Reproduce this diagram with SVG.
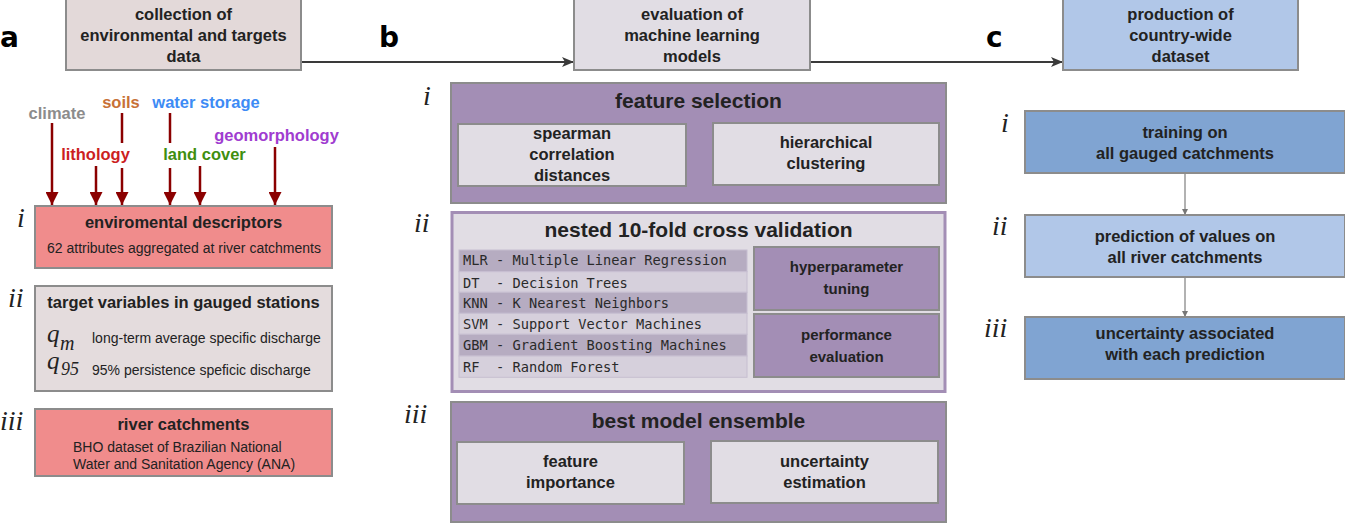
<svg xmlns="http://www.w3.org/2000/svg" width="1345" height="523" viewBox="0 0 1345 523">
<style>
text{font-family:"Liberation Sans",Arial,sans-serif;fill:#222}
.b{font-weight:bold;font-size:16.5px;text-anchor:middle}
.h{font-weight:bold;font-size:21px;text-anchor:middle}
.s{font-weight:bold;font-size:15px;text-anchor:middle}
.r{font-size:14px}
.lab{font-family:"DejaVu Sans",sans-serif;font-weight:bold;font-size:28px;fill:#000}
.rn{font-family:"Liberation Serif","Times New Roman",serif;font-style:italic;font-size:28px;fill:#222}
.m{font-family:"DejaVu Sans Mono","Liberation Mono",monospace;font-size:13.7px;fill:#2a2a2a}
.cat{font-weight:bold;font-size:16.5px;text-anchor:middle}
.box{stroke:#8c8c8c;stroke-width:2}
.red{fill:#f08c8c}
.lav{fill:#e1dde4}
.pur{fill:#a38eb5}
.dblue{fill:#80a4d2}
.lblue{fill:#b1c7e8}
.rowd{fill:#b6acc1;stroke:#c6bed0;stroke-width:1}
.rowl{fill:#d6d0dc;stroke:#c6bed0;stroke-width:1}
.darr{stroke:#8b0000;stroke-width:2.5;fill:none}
.q{font-family:"Liberation Serif","Times New Roman",serif;font-style:italic;fill:#222}
</style>
<defs>
<marker id="ah" viewBox="0 0 12 10" refX="12" refY="5" markerWidth="12" markerHeight="10" markerUnits="userSpaceOnUse" orient="auto">
<path d="M0,0 L12,5 L0,10 L3,5 Z" fill="#3a3a3a"/>
</marker>
<marker id="rh" viewBox="0 0 12 12" refX="12" refY="6" markerWidth="13" markerHeight="13" markerUnits="userSpaceOnUse" orient="auto">
<path d="M0,0 L12,6 L0,12 Z" fill="#8b0000"/>
</marker>
<marker id="sh" viewBox="0 0 6 6" refX="6" refY="3" markerWidth="6" markerHeight="6" markerUnits="userSpaceOnUse" orient="auto">
<path d="M0,0 L6,3 L0,6 Z" fill="#777"/>
</marker>
</defs>

<!-- panel letters -->
<text class="lab" x="0" y="47">a</text>
<text class="lab" x="379" y="47">b</text>
<text class="lab" x="986" y="47">c</text>

<!-- connectors -->
<g id="connectors">
<line x1="301" y1="62" x2="574" y2="62" stroke="#3a3a3a" stroke-width="2" marker-end="url(#ah)"/>
<line x1="810" y1="62" x2="1063" y2="62" stroke="#3a3a3a" stroke-width="2" marker-end="url(#ah)"/>
<line class="darr" x1="52" y1="123" x2="52" y2="205" marker-end="url(#rh)"/>
<line class="darr" x1="96" y1="166" x2="96" y2="205" marker-end="url(#rh)"/>
<line class="darr" x1="122" y1="113" x2="122" y2="143"/>
<line class="darr" x1="122" y1="168" x2="122" y2="205" marker-end="url(#rh)"/>
<line class="darr" x1="170" y1="113" x2="170" y2="143"/>
<line class="darr" x1="170" y1="168" x2="170" y2="205" marker-end="url(#rh)"/>
<line class="darr" x1="200" y1="166" x2="200" y2="205" marker-end="url(#rh)"/>
<line class="darr" x1="275" y1="147" x2="275" y2="205" marker-end="url(#rh)"/>
<line x1="1185" y1="173" x2="1185" y2="215" stroke="#999" stroke-width="1.5" marker-end="url(#sh)"/>
<line x1="1185" y1="277" x2="1185" y2="317" stroke="#999" stroke-width="1.5" marker-end="url(#sh)"/>
</g>

<!-- panel a -->
<g id="collection">
<rect class="box" x="66" y="-1" width="235" height="71" fill="#e3d9d9"/>
<text class="b" x="183.5" y="20">collection of</text>
<text class="b" x="183.5" y="41">environmental and targets</text>
<text class="b" x="183.5" y="62">data</text>
</g>

<g id="categories">
<text class="cat" x="57" y="119" style="fill:#8c8c8c">climate</text>
<text class="cat" x="121" y="108" style="fill:#c87137">soils</text>
<text class="cat" x="206" y="108" style="fill:#3d8bf5">water storage</text>
<text class="cat" x="95.5" y="160" style="fill:#cc1f1f">lithology</text>
<text class="cat" x="204.5" y="160" style="fill:#3f8f0f">land cover</text>
<text class="cat" x="276.5" y="141" style="fill:#a03cd0">geomorphology</text>
</g>

<g id="env-descriptors">
<text class="rn" x="17" y="227">i</text>
<rect class="box red" x="35" y="206" width="297" height="62"/>
<text class="b" x="183.5" y="228">enviromental descriptors</text>
<text class="r" x="184" y="253" text-anchor="middle">62 attributes aggregated at river catchments</text>
</g>

<g id="target-variables">
<text class="rn" x="8" y="307">ii</text>
<rect class="box" x="35" y="286" width="297" height="105" fill="#e4dcdd"/>
<text class="b" x="183.5" y="308">target variables in gauged stations</text>
<text class="q" x="47" y="342" font-size="25">q</text>
<text class="q" x="60" y="350" font-size="20">m</text>
<text class="q" x="47" y="369" font-size="25">q</text>
<text class="q" x="61" y="375" font-size="18">95</text>
<text class="r" x="92" y="343">long-term average specific discharge</text>
<text class="r" x="92" y="375">95% persistence speficic discharge</text>
</g>

<g id="river-catchments">
<text class="rn" x="0" y="430">iii</text>
<rect class="box red" x="35" y="409" width="297" height="67"/>
<text class="b" x="183.5" y="430">river catchments</text>
<text class="r" x="73" y="452">BHO dataset of Brazilian National</text>
<text class="r" x="73" y="469">Water and Sanitation Agency (ANA)</text>
</g>

<!-- panel b -->
<g id="evaluation">
<rect class="box lav" x="574" y="-1" width="236" height="71"/>
<text class="b" x="692" y="20">evaluation of</text>
<text class="b" x="692" y="41">machine learning</text>
<text class="b" x="692" y="62">models</text>
</g>

<g id="feature-selection">
<text class="rn" x="423" y="105">i</text>
<rect class="box pur" x="451" y="83" width="495" height="120" stroke="#777"/>
<text class="h" x="698.5" y="108">feature selection</text>
<rect class="box lav" x="458" y="124" width="228" height="62"/>
<text class="b" x="572" y="139">spearman</text>
<text class="b" x="572" y="160">correlation</text>
<text class="b" x="572" y="181">distances</text>
<rect class="box lav" x="713" y="123" width="226" height="62"/>
<text class="b" x="826" y="148">hierarchical</text>
<text class="b" x="826" y="169">clustering</text>
</g>

<g id="cross-validation">
<text class="rn" x="414" y="232">ii</text>
<rect x="452" y="212.5" width="493" height="179" fill="#e1dde4" stroke="#a38eb5" stroke-width="3"/>
<text class="h" x="698.5" y="237">nested 10-fold cross validation</text>
<rect class="rowd" x="459" y="250" width="288" height="21.7"/>
<rect class="rowl" x="459" y="271.7" width="288" height="20.6"/>
<rect class="rowd" x="459" y="292.3" width="288" height="21"/>
<rect class="rowl" x="459" y="313.3" width="288" height="21"/>
<rect class="rowd" x="459" y="334.3" width="288" height="21.7"/>
<rect class="rowl" x="459" y="356" width="288" height="21.3"/>
<text class="m" x="463" y="265" xml:space="preserve">MLR - Multiple Linear Regression</text>
<text class="m" x="463" y="288" xml:space="preserve">DT  - Decision Trees</text>
<text class="m" x="463" y="308" xml:space="preserve">KNN - K Nearest Neighbors</text>
<text class="m" x="463" y="329" xml:space="preserve">SVM - Support Vector Machines</text>
<text class="m" x="463" y="350" xml:space="preserve">GBM - Gradient Boosting Machines</text>
<text class="m" x="463" y="372" xml:space="preserve">RF  - Random Forest</text>
<rect class="box pur" x="754" y="247" width="185" height="63"/>
<text class="s" x="846.5" y="272">hyperparameter</text>
<text class="s" x="846.5" y="294">tuning</text>
<rect class="box pur" x="754" y="314" width="185" height="63"/>
<text class="s" x="846.5" y="340">performance</text>
<text class="s" x="846.5" y="362">evaluation</text>
</g>

<g id="best-model">
<text class="rn" x="404" y="423">iii</text>
<rect class="box pur" x="451" y="402" width="495" height="120" stroke="#777"/>
<text class="h" x="698.5" y="428">best model ensemble</text>
<rect class="box lav" x="457" y="442" width="227" height="62"/>
<text class="b" x="570.5" y="467">feature</text>
<text class="b" x="570.5" y="488">importance</text>
<rect class="box lav" x="711" y="441" width="227" height="62"/>
<text class="b" x="824.5" y="467">uncertainty</text>
<text class="b" x="824.5" y="488">estimation</text>
</g>

<!-- panel c -->
<g id="production">
<rect class="box lblue" x="1063" y="-1" width="235" height="71"/>
<text class="b" x="1180.5" y="20">production of</text>
<text class="b" x="1180.5" y="41">country-wide</text>
<text class="b" x="1180.5" y="62">dataset</text>
</g>

<g id="training">
<text class="rn" x="1001" y="132">i</text>
<rect class="box dblue" x="1025" y="111" width="320" height="62"/>
<text class="b" x="1185" y="138">training on</text>
<text class="b" x="1185" y="159">all gauged catchments</text>
</g>

<g id="prediction">
<text class="rn" x="992" y="235">ii</text>
<rect class="box lblue" x="1025" y="215" width="320" height="62"/>
<text class="b" x="1185" y="242">prediction of values on</text>
<text class="b" x="1185" y="263">all river catchments</text>
</g>

<g id="uncertainty">
<text class="rn" x="984" y="337">iii</text>
<rect class="box dblue" x="1025" y="317" width="320" height="62"/>
<text class="b" x="1185" y="339">uncertainty associated</text>
<text class="b" x="1185" y="360">with each prediction</text>
</g>
</svg>
